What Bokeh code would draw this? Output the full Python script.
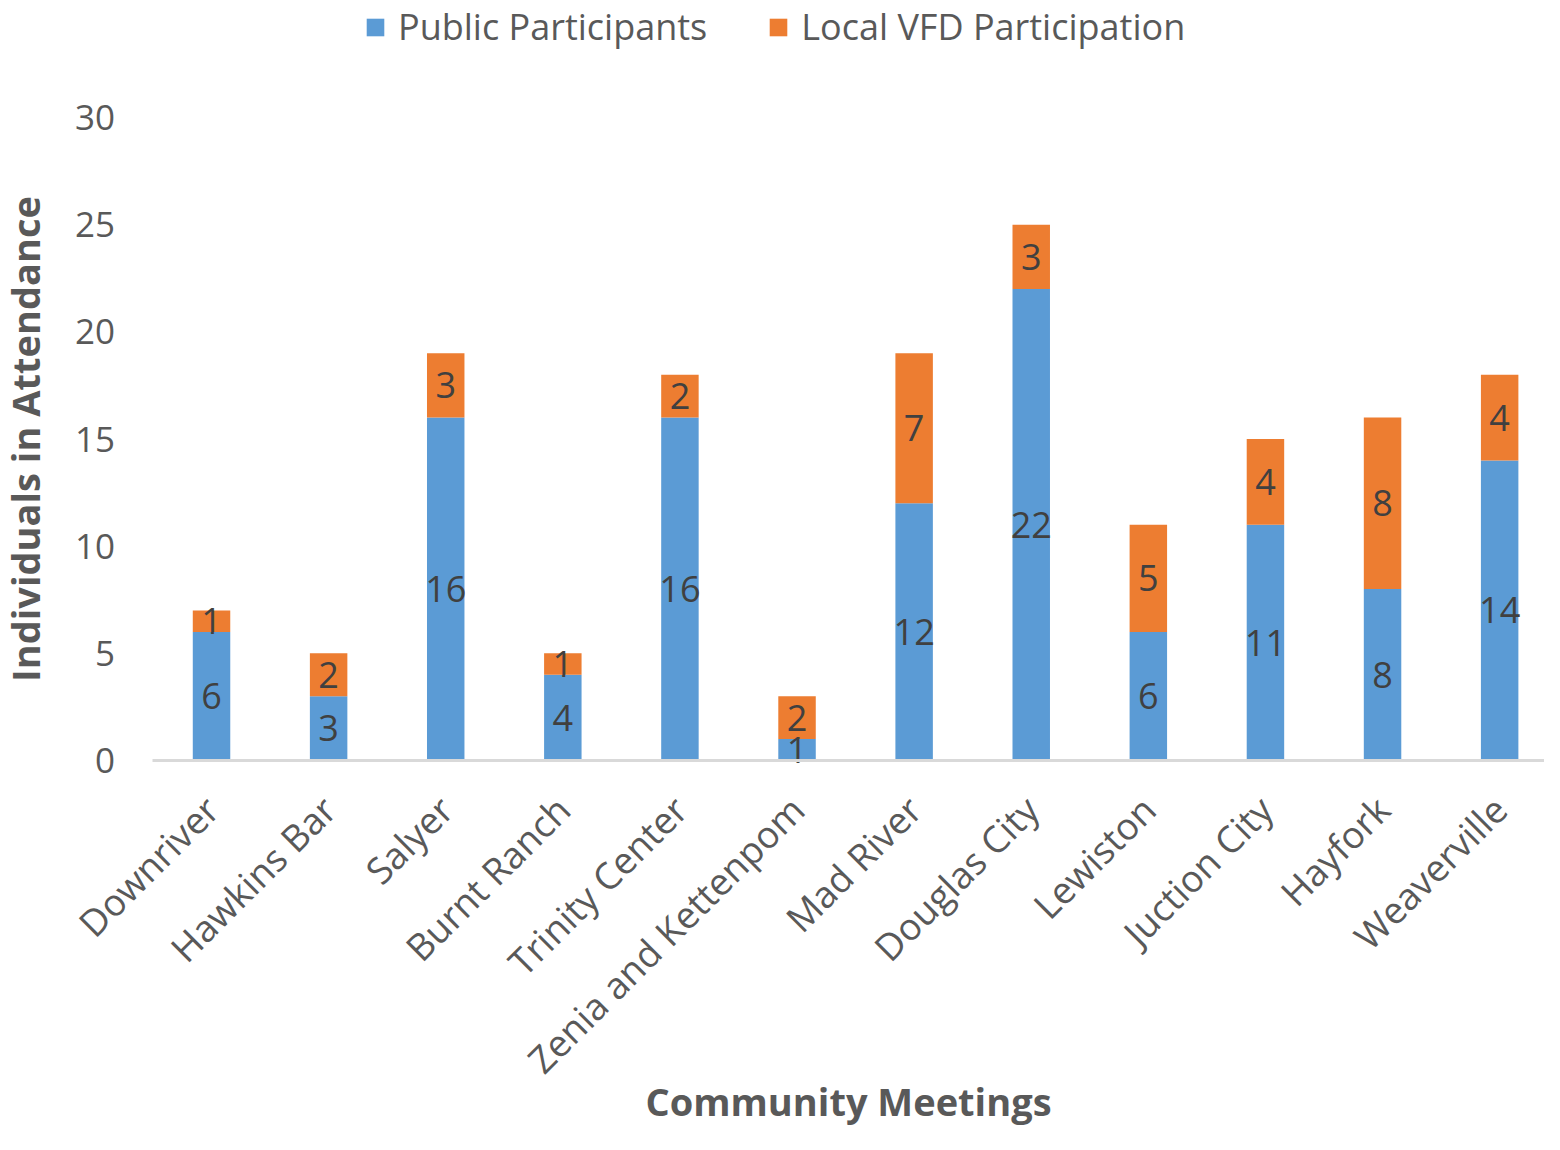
import math
from bokeh.plotting import figure
from bokeh.models import ColumnDataSource, Range1d, Legend, LegendItem, FixedTicker
from bokeh.core.properties import value
from bokeh.embed import file_html
from bokeh.resources import INLINE

meetings = ["Downriver", "Hawkins Bar", "Salyer", "Burnt Ranch", "Trinity Center",
            "Zenia and Kettenpom", "Mad River", "Douglas City", "Lewiston",
            "Juction City", "Hayfork", "Weaverville"]
public = [6, 3, 16, 4, 16, 1, 12, 22, 6, 11, 8, 14]
vfd = [1, 2, 3, 1, 2, 2, 7, 3, 5, 4, 8, 4]
y_ticks = [0, 5, 10, 15, 20, 25, 30]

FONT = "Open Sans"
BLUE = "#5B9BD5"
ORANGE = "#ED7D31"
GREY = "#595959"

n = len(meetings)
idx = list(range(n))
totals = [a + b for a, b in zip(public, vfd)]
src = ColumnDataSource(dict(
    i=idx, public=public, vfd=vfd, total=totals,
    pub_mid=[a / 2 for a in public],
    vfd_mid=[a + b / 2 for a, b in zip(public, vfd)],
    pub_lbl=[str(a) for a in public],
    vfd_lbl=[str(b) for b in vfd],
))

# the frame covers the whole canvas; axes are pinned inside it
p = figure(x_range=Range1d(-1.802, 11.383), y_range=Range1d(-17.45, 35.46),
           width=1544, height=1134, output_backend="svg", toolbar_location=None,
           min_border_left=0, min_border_bottom=0, min_border_top=0, min_border_right=0)

r1 = p.vbar(x="i", top="public", bottom=0, width=0.32, source=src,
            fill_color=BLUE, line_color=None)
r2 = p.vbar(x="i", top="total", bottom="public", width=0.32, source=src,
            fill_color=ORANGE, line_color=None)

p.text(x="i", y="pub_mid", text="pub_lbl", source=src, text_align="center",
       text_baseline="middle", text_font=value(FONT), text_font_size="36px",
       text_color="#404040")
p.text(x="i", y="vfd_mid", text="vfd_lbl", source=src, text_align="center",
       text_baseline="middle", text_font=value(FONT), text_font_size="36px",
       text_color="#404040")

p.outline_line_color = None
p.xgrid.grid_line_color = None
p.ygrid.grid_line_color = None

p.yaxis.fixed_location = -0.5
p.yaxis.bounds = (y_ticks[0], y_ticks[-1])
p.yaxis.ticker = FixedTicker(ticks=y_ticks)
p.yaxis.axis_line_color = None
p.yaxis.major_tick_line_color = None
p.yaxis.minor_tick_line_color = None
p.yaxis.major_label_text_font = FONT
p.yaxis.major_label_text_font_size = "35px"
p.yaxis.major_label_text_color = GREY
p.yaxis.major_label_standoff = 32
p.yaxis.axis_label = "Individuals in Attendance"
p.yaxis.axis_label_text_font = FONT
p.yaxis.axis_label_text_font_size = "38px"
p.yaxis.axis_label_text_font_style = "bold"
p.yaxis.axis_label_text_color = GREY
p.yaxis.axis_label_standoff = 20

p.xaxis.fixed_location = 0
p.xaxis.bounds = (-0.5, n - 0.5)
p.xaxis.ticker = FixedTicker(ticks=idx)
p.xaxis.major_label_overrides = {i: m for i, m in zip(idx, meetings)}
p.xaxis.axis_line_color = "#D9D9D9"
p.xaxis.axis_line_width = 3
p.xaxis.major_tick_line_color = None
p.xaxis.minor_tick_line_color = None
p.xaxis.major_label_orientation = math.pi / 4
p.xaxis.major_label_text_font = FONT
p.xaxis.major_label_text_font_size = "37px"
p.xaxis.major_label_text_color = GREY
p.xaxis.major_label_standoff = 36
p.xaxis.axis_label = "Community Meetings"
p.xaxis.axis_label_text_font = FONT
p.xaxis.axis_label_text_font_size = "38px"
p.xaxis.axis_label_text_font_style = "bold"
p.xaxis.axis_label_text_color = GREY
p.xaxis.axis_label_standoff = -30

legend = Legend(items=[LegendItem(label="Public Participants", renderers=[r1]),
                       LegendItem(label="Local VFD Participation", renderers=[r2])],
                orientation="horizontal", location=(364, 1083),
                label_text_font=FONT, label_text_font_size="36px",
                label_text_color=GREY, glyph_width=22, glyph_height=22,
                spacing=60, padding=4, margin=0, label_standoff=12,
                border_line_color=None, background_fill_alpha=0)
p.add_layout(legend)

open("out.html", "w").write(file_html(p, INLINE))
